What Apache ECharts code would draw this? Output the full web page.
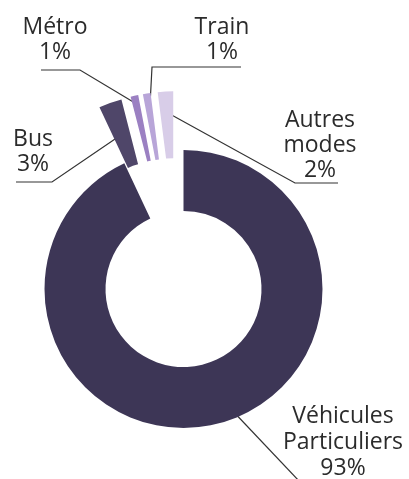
<!DOCTYPE html>
<html>
<head>
<meta charset="utf-8">
<script src="https://cdn.jsdelivr.net/npm/echarts@6/dist/echarts.min.js"></script>
<style>
  html, body { margin: 0; padding: 0; background: #fff; }
  #chart { width: 409px; height: 479px; }
</style>
</head>
<body>
<div id="chart"></div>
<script>
// parts des modes de déplacement (%)
var modes = ['Véhicules Particuliers', 'Bus', 'Métro', 'Train', 'Autres modes'];
var parts = [93, 3, 1, 1, 2];
var colors = ['#3d3656', '#4f4669', '#9b80c2', '#b8a5d8', '#d8cde8'];

// position des étiquettes + lignes de rappel
var labelPos = [
  { x: 343, y: 442, line: [[229, 407], [300, 482], [300, 482]] },
  { x: 33, y: 152, line: [[118, 137], [52, 182], [16, 182]] },
  { x: 55, y: 40, line: [[135, 103], [80, 70], [41, 70]] },
  { x: 222, y: 40, line: [[150, 105], [152, 67], [241, 67]] },
  { x: 320, y: 145, line: [[168, 113], [295, 183], [338, 183]] }
];

var mainCenter = [183.5, 289];
var smallCenter = [178, 291];
var explode = 76;

var chart = echarts.init(document.getElementById('chart'));

function fmt(p) {
  return p.name.replace(' ', '\n') + '\n' + p.value + '%';
}

var labelStyle = {
  show: true,
  formatter: fmt,
  fontFamily: 'Open Sans',
  fontSize: 23,
  lineHeight: 25,
  color: '#2b2b2b',
  align: 'center'
};

function layout(p) {
  var lp = labelPos[p.dataIndex];
  return {
    x: lp.x,
    y: lp.y,
    align: 'center',
    verticalAlign: 'middle',
    labelLinePoints: lp.line
  };
}

var total = parts.reduce(function (a, b) { return a + b; }, 0);

// une série par part, seule la part i est visible
function sliceSeries(i) {
  var before = 0;
  for (var k = 0; k < i; k++) before += parts[k];
  var mid = (before + parts[i] / 2) / total * 2 * Math.PI;
  var center, radius;
  if (i === 0) {
    center = mainCenter;
    radius = [78, 139];
  } else {
    center = [smallCenter[0] + explode * Math.sin(mid), smallCenter[1] - explode * Math.cos(mid)];
    radius = [57, 124];
  }
  return {
    type: 'pie',
    center: center,
    radius: radius,
    startAngle: 90,
    clockwise: true,
    avoidLabelOverlap: false,
    silent: true,
    label: i === 0 ? Object.assign({}, labelStyle, { lineHeight: 26 }) : labelStyle,
    labelLine: { show: true, lineStyle: { color: '#333', width: 1.2 } },
    labelLayout: layout,
    data: modes.map(function (m, j) {
      return {
        name: m,
        value: parts[j],
        itemStyle: { color: j === i ? colors[j] : 'rgba(0,0,0,0)' },
        label: { show: j === i },
        labelLine: { show: j === i }
      };
    })
  };
}

var option = {
  backgroundColor: '#fff',
  animation: false,
  series: modes.map(function (m, i) { return sliceSeries(i); })
};

chart.setOption(option);
</script>
</body>
</html>
